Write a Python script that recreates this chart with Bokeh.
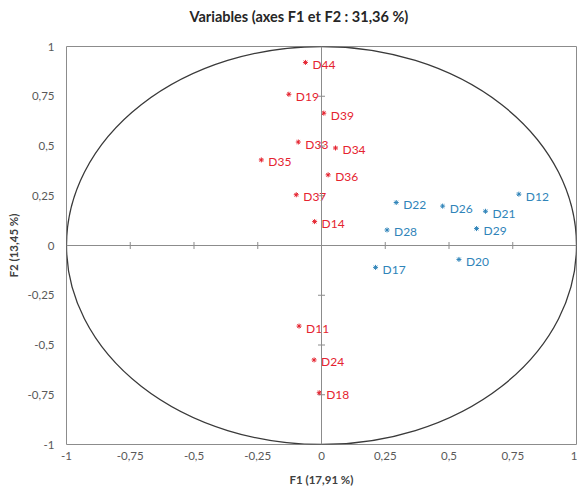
from bokeh.plotting import figure
from bokeh.models import Range1d, Span, FixedTicker, CustomJSTickFormatter, ColumnDataSource, Title
from bokeh.core.properties import value
from bokeh.embed import file_html
from bokeh.resources import INLINE

# Data
red_labels = ["D44", "D19", "D39", "D33", "D34", "D35", "D36", "D37", "D14", "D11", "D24", "D18"]
red_x = [-0.063, -0.128, 0.009, -0.091, 0.055, -0.236, 0.026, -0.099, -0.027, -0.088, -0.029, -0.009]
red_y = [0.92, 0.76, 0.665, 0.52, 0.49, 0.43, 0.355, 0.255, 0.12, -0.405, -0.575, -0.74]

blue_labels = ["D12", "D22", "D26", "D21", "D28", "D29", "D20", "D17"]
blue_x = [0.774, 0.293, 0.475, 0.643, 0.257, 0.608, 0.539, 0.212]
blue_y = [0.258, 0.216, 0.198, 0.172, 0.078, 0.085, -0.07, -0.11]

ticks = [-1, -0.75, -0.5, -0.25, 0, 0.25, 0.5, 0.75, 1]
inner_ticks = [-0.75, -0.5, -0.25, 0.25, 0.5, 0.75]

FONT = "Lato"
RED = "#E5232F"
BLUE = "#2F84B9"

p = figure(width=577, height=488, output_backend="svg", toolbar_location=None,
           x_range=Range1d(-1, 1), y_range=Range1d(-1, 1),
           min_border_left=66, min_border_right=1, min_border_top=46, min_border_bottom=43,
           title="Variables (axes F1 et F2 : 31,36 %)")
p.title.align = "left"
p.title.offset = 123
p.title.text_font = FONT
p.title.text_font_size = "14.5px"
p.title.text_font_style = "bold"
p.title.text_color = "#262626"
# empty spacer panel between title and frame
p.add_layout(Title(text=" ", text_font_size="4px"), "above")

p.xgrid.visible = False
p.ygrid.visible = False
p.outline_line_color = "#8C8C8C"
p.outline_line_width = 1
p.background_fill_color = "white"
p.border_fill_color = "white"

fmt = CustomJSTickFormatter(code="return String(tick).replace('.', ',');")
for ax, lab in ((p.xaxis[0], "F1 (17,91 %)"), (p.yaxis[0], "F2 (13,45 %)")):
    ax.ticker = FixedTicker(ticks=ticks)
    ax.formatter = fmt
    ax.axis_line_color = None
    ax.major_tick_line_color = None
    ax.minor_tick_line_color = None
    ax.major_tick_out = 0
    ax.major_tick_in = 0
    ax.minor_tick_out = 0
    ax.minor_tick_in = 0
    ax.major_label_text_font = FONT
    ax.major_label_text_font_size = "11.5px"
    ax.major_label_text_color = "#595959"
    ax.axis_label = lab
    ax.axis_label_text_font = FONT
    ax.axis_label_text_font_size = "11.5px"
    ax.axis_label_text_font_style = "bold"
    ax.axis_label_text_color = "#404040"
p.xaxis.major_label_standoff = 7
p.xaxis.axis_label_standoff = 10
p.yaxis.major_label_standoff = 12
p.yaxis.axis_label_standoff = 5

# origin axes
p.add_layout(Span(location=0, dimension="width", line_color="#8C8C8C", line_width=1))
p.add_layout(Span(location=0, dimension="height", line_color="#8C8C8C", line_width=1))
p.scatter(x=inner_ticks, y=[0] * len(inner_ticks), marker="dash", angle=1.5708,
          size=7, line_color="#8C8C8C", line_width=1)
p.scatter(x=[0] * len(inner_ticks), y=inner_ticks, marker="dash",
          size=7, line_color="#8C8C8C", line_width=1)

# correlation circle
p.ellipse(x=0, y=0, width=2, height=2, fill_color=None, line_color="#3A3A3A", line_width=1.3)

for xs, ys, labs, col in ((red_x, red_y, red_labels, RED), (blue_x, blue_y, blue_labels, BLUE)):
    src = ColumnDataSource(dict(x=xs, y=ys, t=labs))
    p.scatter("x", "y", source=src, marker="asterisk", size=5, line_color=col, line_width=1)
    p.text("x", "y", text="t", source=src, x_offset=7, y_offset=2,
           text_font=value(FONT), text_font_size="12px", text_color=col,
           text_align="left", text_baseline="middle")

open("out.html", "w").write(file_html(p, INLINE))
